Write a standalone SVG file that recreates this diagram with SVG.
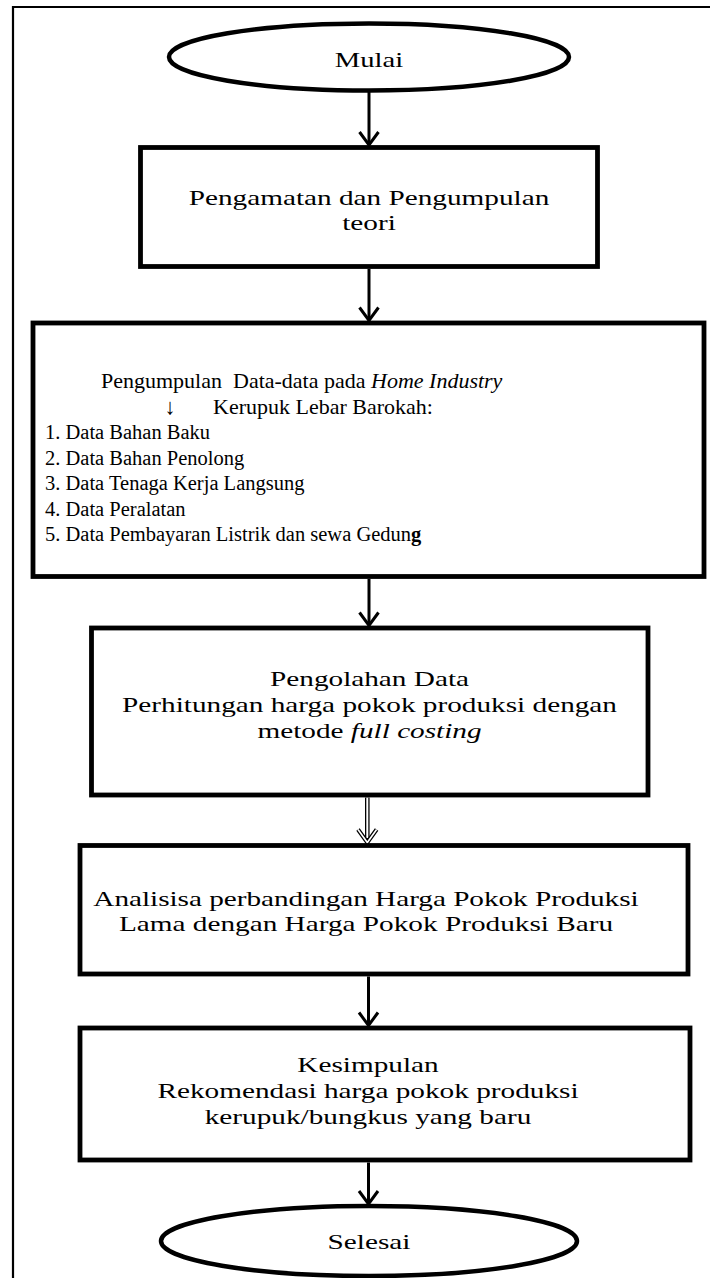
<svg xmlns="http://www.w3.org/2000/svg" width="710" height="1278" viewBox="0 0 710 1278">
<defs>
<style>
.frame{fill:none;stroke:#000;stroke-width:2.2}
.box{fill:#fff;stroke:#000;stroke-width:4.8}
.term{fill:#fff;stroke:#000;stroke-width:4.5}
.con{fill:none;stroke:#000;stroke-width:3}
text{font-family:"Liberation Serif","Times New Roman",serif;font-size:22px;fill:#000}
.c{text-anchor:middle}
.i{font-style:italic}
.it{font-size:20.5px}
</style>
<marker id="arr" viewBox="0 0 18 24" refX="15" refY="12" markerWidth="18" markerHeight="24" markerUnits="userSpaceOnUse" orient="auto">
<path d="M2,2.5 L15,12 L2,21.5" fill="none" stroke="#000" stroke-width="3"/>
</marker>
</defs>
<rect width="710" height="1278" fill="#fff"/>
<path class="frame" d="M13,1282 V7 H714"/>

<g id="connectors">
<line class="con" x1="369" y1="91" x2="369" y2="145" marker-end="url(#arr)"/>
<line class="con" x1="369" y1="269" x2="369" y2="320.5" marker-end="url(#arr)"/>
<line class="con" x1="369" y1="579" x2="369" y2="625.5" marker-end="url(#arr)"/>
<g id="double-arrow">
<line x1="367.3" y1="797.5" x2="367.3" y2="841" stroke="#000" stroke-width="4.6"/>
<line x1="367.3" y1="797.5" x2="367.3" y2="838" stroke="#fff" stroke-width="2"/>
<path d="M358,829.5 L367.3,842.5 L376.6,829.5" fill="none" stroke="#000" stroke-width="4.2"/>
<path d="M358,829.5 L367.3,842.5 L376.6,829.5" fill="none" stroke="#fff" stroke-width="1.6"/>
</g>
<line class="con" x1="368.5" y1="976.5" x2="368.5" y2="1025.5" marker-end="url(#arr)"/>
<line class="con" x1="368.5" y1="1162.5" x2="368.5" y2="1204" marker-end="url(#arr)"/>
</g>

<g id="mulai">
<ellipse class="term" cx="369" cy="57" rx="200" ry="33.5"/>
<text class="c" transform="translate(369,67) scale(1.3,1)">Mulai</text>
</g>

<g id="pengamatan">
<rect class="box" x="140.5" y="147.5" width="457" height="119"/>
<text class="c" transform="translate(369,205) scale(1.33,1)">Pengamatan dan Pengumpulan</text>
<text class="c" transform="translate(369,230) scale(1.33,1)">teori</text>
</g>

<g id="pengumpulan-data">
<rect class="box" x="33" y="323" width="671" height="253.5"/>
<text xml:space="preserve" x="101" y="388">Pengumpulan  Data-data pada <tspan class="i">Home Industry</tspan></text>
<text class="c" x="170" y="413.5">↓</text>
<text x="213" y="413.5">Kerupuk Lebar Barokah:</text>
<text class="it" x="45" y="439">1. Data Bahan Baku</text>
<text class="it" x="45" y="464.5">2. Data Bahan Penolong</text>
<text class="it" x="45" y="490">3. Data Tenaga Kerja Langsung</text>
<text class="it" x="45" y="515.5">4. Data Peralatan</text>
<text class="it" x="45" y="541">5. Data Pembayaran Listrik dan sewa Gedun<tspan font-weight="bold">g</tspan></text>
</g>

<g id="pengolahan">
<rect class="box" x="91.5" y="628" width="556.5" height="167"/>
<text class="c" transform="translate(369.5,686) scale(1.33,1)">Pengolahan Data</text>
<text class="c" transform="translate(369.5,712) scale(1.33,1)">Perhitungan harga pokok produksi dengan</text>
<text class="c" transform="translate(369.5,738) scale(1.33,1)">metode <tspan class="i">full costing</tspan></text>
</g>

<g id="analisisa">
<rect class="box" x="80" y="845.5" width="608" height="128.5"/>
<text class="c" transform="translate(366,906) scale(1.33,1)" textLength="410" lengthAdjust="spacing">Analisisa perbandingan Harga Pokok Produksi</text>
<text class="c" transform="translate(366,931) scale(1.33,1)">Lama dengan Harga Pokok Produksi Baru</text>
</g>

<g id="kesimpulan">
<rect class="box" x="80" y="1028" width="610" height="132"/>
<text class="c" transform="translate(368,1072) scale(1.33,1)">Kesimpulan</text>
<text class="c" transform="translate(368,1098) scale(1.33,1)">Rekomendasi harga pokok produksi</text>
<text class="c" transform="translate(368,1124) scale(1.33,1)">kerupuk/bungkus yang baru</text>
</g>

<g id="selesai">
<ellipse class="term" cx="369" cy="1241" rx="208" ry="35"/>
<text class="c" transform="translate(369,1248.5) scale(1.33,1)">Selesai</text>
</g>
</svg>
